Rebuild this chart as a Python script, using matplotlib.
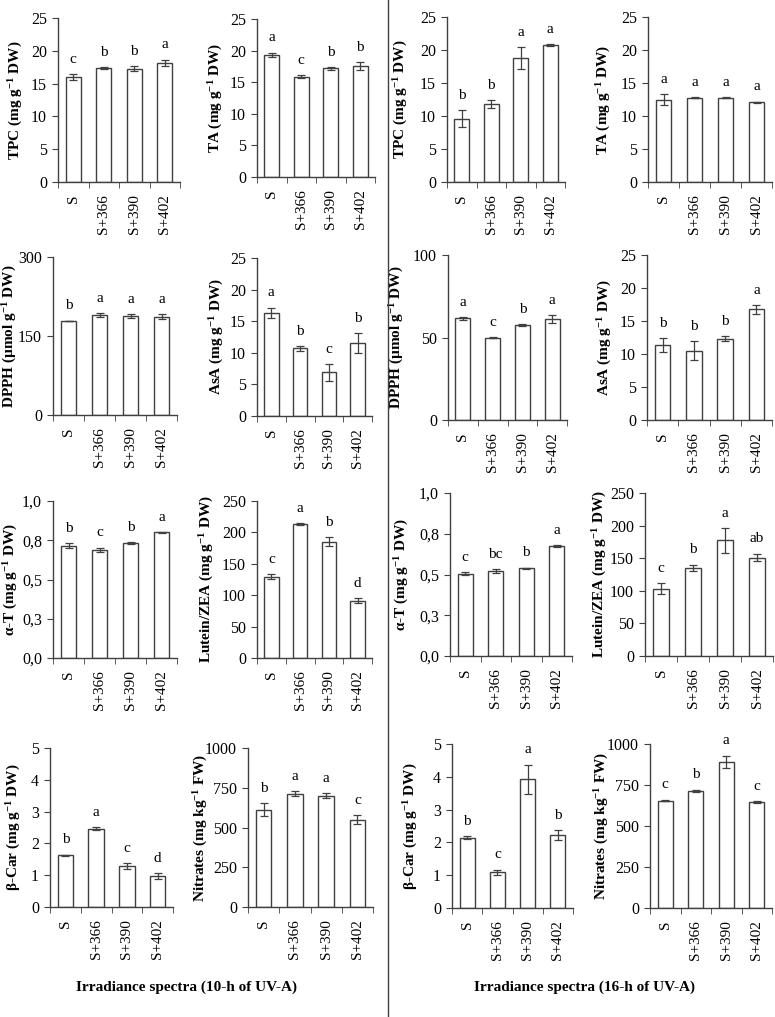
import matplotlib
matplotlib.use("Agg")
import matplotlib.pyplot as plt
from matplotlib.lines import Line2D
import numpy as np

plt.rcParams['font.family'] = ['Liberation Serif', 'DejaVu Serif']
plt.rcParams['mathtext.fontset'] = 'custom'
plt.rcParams['mathtext.rm'] = 'Liberation Serif'
plt.rcParams['mathtext.bf'] = 'Liberation Serif:bold'
plt.rcParams['mathtext.default'] = 'bf'

W, H = 775, 1017
EDGE = "#404040"

categories = ["S", "S+366", "S+390", "S+402"]

# 10-h UV-A
tpc_10 = [16.0, 17.4, 17.3, 18.2]
tpc_10_err = [0.4, 0.1, 0.4, 0.45]
tpc_10_sig = ["c", "b", "b", "a"]
ta_10 = [19.3, 15.85, 17.2, 17.6]
ta_10_err = [0.35, 0.25, 0.2, 0.6]
ta_10_sig = ["a", "c", "b", "b"]
dpph_10 = [178.5, 190.0, 188.0, 187.0]
dpph_10_err = [0.8, 3.0, 4.0, 4.0]
dpph_10_sig = ["b", "a", "a", "a"]
asa_10 = [16.3, 10.7, 6.9, 11.5]
asa_10_err = [0.85, 0.4, 1.3, 1.6]
asa_10_sig = ["a", "b", "c", "b"]
at_10 = [0.715, 0.69, 0.73, 0.80]
at_10_err = [0.016, 0.013, 0.007, 0.003]
at_10_sig = ["b", "c", "b", "a"]
lut_10 = [129.5, 213.0, 185.0, 91.5]
lut_10_err = [3.7, 1.5, 7.0, 4.0]
lut_10_sig = ["c", "a", "b", "d"]
bcar_10 = [1.625, 2.46, 1.28, 0.965]
bcar_10_err = [0.02, 0.05, 0.09, 0.1]
bcar_10_sig = ["b", "a", "c", "d"]
nit_10 = [612, 713, 700, 549]
nit_10_err = [40, 16, 17, 29]
nit_10_sig = ["b", "a", "a", "c"]

# 16-h UV-A
tpc_16 = [9.6, 11.8, 18.8, 20.7]
tpc_16_err = [1.3, 0.6, 1.65, 0.15]
tpc_16_sig = ["b", "b", "a", "a"]
ta_16 = [12.5, 12.8, 12.75, 12.05]
ta_16_err = [0.8, 0.08, 0.06, 0.1]
ta_16_sig = ["a", "a", "a", "a"]
dpph_16 = [61.6, 50.0, 57.6, 61.2]
dpph_16_err = [0.8, 0.4, 0.4, 2.5]
dpph_16_sig = ["a", "c", "b", "a"]
asa_16 = [11.3, 10.5, 12.3, 16.75]
asa_16_err = [1.05, 1.45, 0.4, 0.65]
asa_16_sig = ["b", "b", "b", "a"]
at_16 = [0.506, 0.522, 0.537, 0.675]
at_16_err = [0.01, 0.012, 0.005, 0.005]
at_16_sig = ["c", "bc", "b", "a"]
lut_16 = [103.5, 135.0, 177.5, 151.0]
lut_16_err = [7.7, 5.0, 19.0, 6.0]
lut_16_sig = ["c", "b", "a", "ab"]
bcar_16 = [2.14, 1.09, 3.92, 2.22]
bcar_16_err = [0.05, 0.08, 0.45, 0.16]
bcar_16_sig = ["b", "c", "a", "b"]
nit_16 = [655, 714, 892, 645]
nit_16_err = [5, 8, 36, 5]
nit_16_sig = ["c", "b", "a", "c"]

ticks_25 = [0, 5, 10, 15, 20, 25]
ticks_dpph_10 = [0, 150, 300]
ticks_dpph_16 = [0, 50, 100]
ticks_at = [0, 0.25, 0.5, 0.75, 1.0]
ticklabels_at = ["0,0", "0,3", "0,5", "0,8", "1,0"]
ticks_lut = [0, 50, 100, 150, 200, 250]
ticks_bcar = [0, 1, 2, 3, 4, 5]
ticks_nit = [0, 250, 500, 750, 1000]

lab_tpc = r"TPC (mg g$^{-1}$ DW)"
lab_ta = r"TA (mg g$^{-1}$ DW)"
lab_dpph = r"DPPH (µmol g$^{-1}$ DW)"
lab_asa = r"AsA (mg g$^{-1}$ DW)"
lab_at = r"α-T (mg g$^{-1}$ DW)"
lab_lut = r"Lutein/ZEA (mg g$^{-1}$ DW)"
lab_bcar = r"β-Car (mg g$^{-1}$ DW)"
lab_nit = r"Nitrates (mg kg$^{-1}$ FW)"

# (left, right, top, bottom, ylabel centre x) in pixels
panels = [
    ((58, 180, 18, 182, 16), tpc_10, tpc_10_err, tpc_10_sig, ticks_25, None, lab_tpc),
    ((257, 375, 19, 177, 216), ta_10, ta_10_err, ta_10_sig, ticks_25, None, lab_ta),
    ((447, 565, 17, 182, 401), tpc_16, tpc_16_err, tpc_16_sig, ticks_25, None, lab_tpc),
    ((648, 772, 17, 182, 604), ta_16, ta_16_err, ta_16_sig, ticks_25, None, lab_ta),
    ((53, 177, 257, 415, 10), dpph_10, dpph_10_err, dpph_10_sig, ticks_dpph_10, None, lab_dpph),
    ((257, 372, 258, 416, 217), asa_10, asa_10_err, asa_10_sig, ticks_25, None, lab_asa),
    ((448, 567, 255, 420, 397), dpph_16, dpph_16_err, dpph_16_sig, ticks_dpph_16, None, lab_dpph),
    ((647, 772, 255, 420, 605), asa_16, asa_16_err, asa_16_sig, ticks_25, None, lab_asa),
    ((53, 177, 501, 658, 11), at_10, at_10_err, at_10_sig, ticks_at, ticklabels_at, lab_at),
    ((257, 372, 501, 658, 207), lut_10, lut_10_err, lut_10_sig, ticks_lut, None, lab_lut),
    ((450, 572, 493, 656, 402), at_16, at_16_err, at_16_sig, ticks_at, ticklabels_at, lab_at),
    ((645, 773, 493, 656, 600), lut_16, lut_16_err, lut_16_sig, ticks_lut, None, lab_lut),
    ((50, 173, 748, 907, 14), bcar_10, bcar_10_err, bcar_10_sig, ticks_bcar, None, lab_bcar),
    ((248, 373, 748, 907, 201), nit_10, nit_10_err, nit_10_sig, ticks_nit, None, lab_nit),
    ((452, 573, 744, 908, 411), bcar_16, bcar_16_err, bcar_16_sig, ticks_bcar, None, lab_bcar),
    ((650, 772, 744, 908, 602), nit_16, nit_16_err, nit_16_sig, ticks_nit, None, lab_nit),
]

fig = plt.figure(figsize=(W / 100, H / 100), dpi=100)

for (l, r, t, b, lx), vals, errs, sig, yticks, ylabels, ylab in panels:
    ax = fig.add_axes([l / W, 1 - b / H, (r - l) / W, (b - t) / H])
    x = np.arange(len(categories))
    ax.bar(x, vals, width=0.5, color="white", edgecolor=EDGE, linewidth=1.0,
           yerr=errs, capsize=3,
           error_kw=dict(ecolor=EDGE, elinewidth=0.9, capthick=0.9))
    for i, (v, e, s) in enumerate(zip(vals, errs, sig)):
        ax.annotate(s, (i, v + e), xytext=(0, 6), textcoords="offset points",
                    ha="center", va="bottom", fontsize=11)
    ax.set_xlim(-0.5, 3.5)
    ax.set_ylim(0, yticks[-1])
    ax.set_xticks(x)
    ax.set_xticklabels(categories, rotation=90, fontsize=11)
    ax.set_xticks(np.arange(-0.5, 4, 1), minor=True)
    ax.tick_params(axis="x", which="major", length=0, pad=9)
    ax.tick_params(axis="x", which="minor", length=4, color=EDGE)
    ax.set_yticks(yticks)
    if ylabels:
        ax.set_yticklabels(ylabels)
    ax.tick_params(axis="y", length=4, color=EDGE, labelsize=11.5, pad=4)
    ax.set_ylabel(ylab, fontsize=11, fontweight="bold", va="center")
    ax.yaxis.set_label_coords((lx - l) / (r - l), 0.5)
    for side in ("top", "right"):
        ax.spines[side].set_visible(False)
    for side in ("left", "bottom"):
        ax.spines[side].set_color(EDGE)
        ax.spines[side].set_linewidth(1.0)

fig.text(187 / W, 1 - 987 / H, "Irradiance spectra (10-h of UV-A)",
         ha="center", va="center", fontsize=11, fontweight="bold")
fig.text(585 / W, 1 - 987 / H, "Irradiance spectra (16-h of UV-A)",
         ha="center", va="center", fontsize=11, fontweight="bold")

fig.add_artist(Line2D([388 / W, 388 / W], [0, 1], color=EDGE, linewidth=1.0))

fig.savefig("out.png", dpi=100)
plt.close(fig)
